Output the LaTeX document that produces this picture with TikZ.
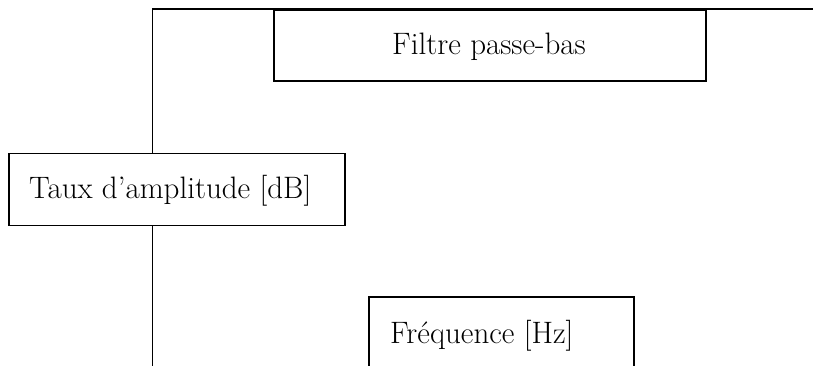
\documentclass[tikz,border=0pt]{standalone}
\begin{document}
\begin{tikzpicture}[x=1pt,y=-1pt,
  box/.style={draw=black, fill=white, line width=1.8pt, inner sep=0pt},
  lbl/.style={font=\fontsize{31}{36}\selectfont, inner sep=0pt},
  wire/.style={draw=black, line width=1.8pt}]
\useasboundingbox (0,0) rectangle (813,365);
\clip (0,0) rectangle (813,365);
\coordinate (top) at (152.5,9);
\coordinate (bot) at (152.5,372);
\coordinate (rightend) at (816,9);
\draw[wire] (bot) -- (top) -- (rightend);
\node[box, minimum width=432pt, minimum height=71pt, anchor=north west] (filtre) at (272.7,9) {};
\node[box, minimum width=336pt, minimum height=72pt, anchor=north west] (taux) at (8.3,152.5) {};
\node[box, minimum width=264.5pt, minimum height=90pt, anchor=north west] (freq) at (368.3,296) {};
\node[lbl, anchor=base] (tfiltre) at (489,54.3) {Filtre passe-bas};
\node[lbl, anchor=base west] (ttaux) at (29,198.3) {Taux d'amplitude [dB]};
\node[lbl, anchor=base west] (tfreq) at (390,343.3) {Fréquence [Hz]};
\end{tikzpicture}
\end{document}
